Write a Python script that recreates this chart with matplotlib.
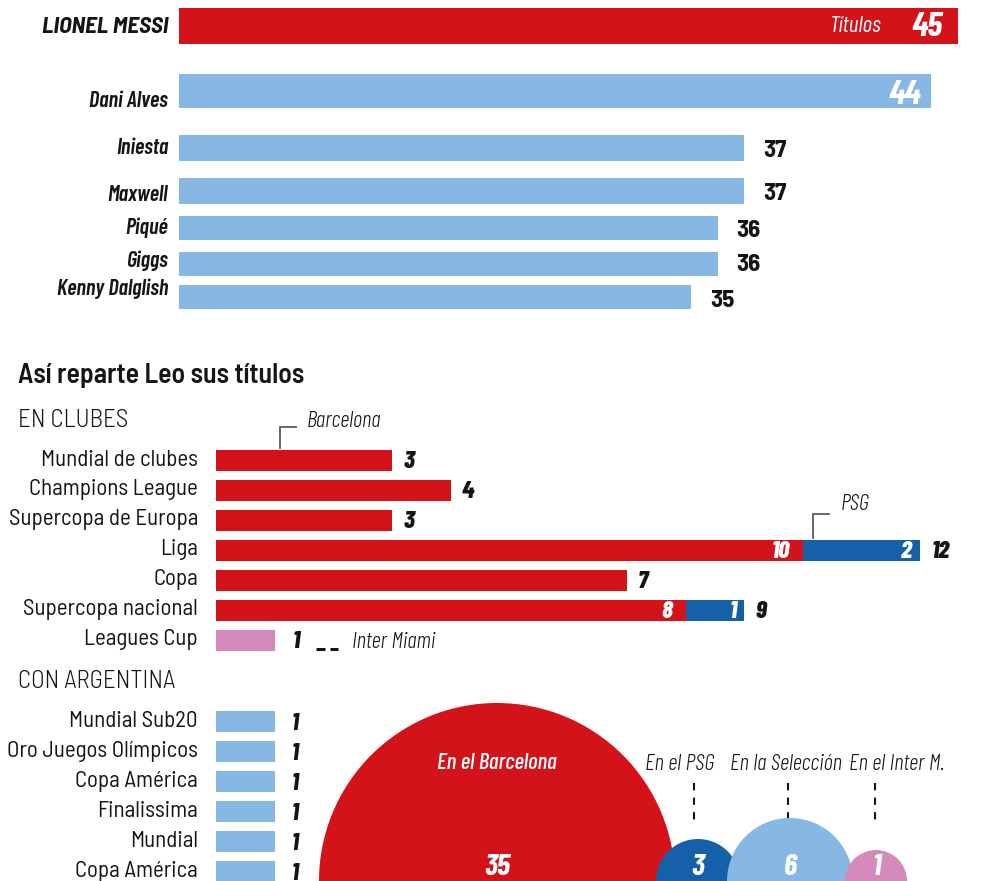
import matplotlib
matplotlib.use("Agg")
import matplotlib.pyplot as plt
from matplotlib.patches import Circle
from matplotlib.font_manager import FontProperties

# ---------------- data ----------------
top_players = ["LIONEL MESSI", "Dani Alves", "Iniesta", "Maxwell", "Piqué", "Giggs", "Kenny Dalglish"]
top_titles = [45, 44, 37, 37, 36, 36, 35]

club_competitions = ["Mundial de clubes", "Champions League", "Supercopa de Europa",
                     "Liga", "Copa", "Supercopa nacional", "Leagues Cup"]
club_barcelona = [3, 4, 3, 10, 7, 8, 0]
club_psg = [0, 0, 0, 2, 0, 1, 0]
club_inter = [0, 0, 0, 0, 0, 0, 1]

arg_competitions = ["Mundial Sub20", "Oro Juegos Olímpicos", "Copa América",
                    "Finalissima", "Mundial", "Copa América"]
arg_titles = [1, 1, 1, 1, 1, 1]

bubble_labels = ["En el Barcelona", "En el PSG", "En la Selección", "En el Inter M."]
bubble_values = [35, 3, 6, 1]

# ---------------- style / layout ----------------
W, H = 989, 881
RED = "#D41219"
LBLUE = "#86B8E3"
DBLUE = "#1560A9"
PINK = "#D48ABA"
INK = "#151515"
GREY = "#5a5a5a"

FAM = ["Barlow Condensed", "DejaVu Sans"]
FAM_SEMI = ["Barlow Semi Condensed", "Barlow Condensed", "DejaVu Sans"]


def fp(size, weight=400, style="normal", family=FAM):
    return FontProperties(family=family, size=size, weight=weight, style=style)


fig = plt.figure(figsize=(W / 100, H / 100), dpi=100)
fig.patch.set_facecolor("white")

# --- top ranking panel: pixel = TOP_A + TOP_B * value (scale does not start at 0)
TOP_A, TOP_B = -242.8, 26.68
top_base = (179 - TOP_A) / TOP_B
ax_top = fig.add_axes([0, 0, 1, 1])
ax_top.set_xlim((0 - TOP_A) / TOP_B, (W - TOP_A) / TOP_B)
ax_top.set_ylim(H, 0)
ax_top.axis("off")
ax_top.patch.set_alpha(0)

top_y = [26, 91, 148, 191, 228, 264, 297]
top_h = [36, 34, 26, 26, 24, 24, 24]
top_label_base = [33, 107, 154, 201, 234, 267, 295]
top_value_base = [36, 104, 157, 200, 237, 271, 307]
top_colors = [RED] + [LBLUE] * 6

for i, (name, v) in enumerate(zip(top_players, top_titles)):
    ax_top.barh(top_y[i], v - top_base, left=top_base, height=top_h[i],
                color=top_colors[i], edgecolor="none")
    lx = (168 - TOP_A) / TOP_B
    if i == 0:
        ax_top.text(lx, top_label_base[i], name, ha="right", va="baseline",
                    color=INK, fontproperties=fp(17, 700, "italic", FAM_SEMI))
        ax_top.annotate(str(v), (v, top_value_base[i]), xytext=(-15, 0),
                        textcoords="offset pixels", ha="right", va="baseline",
                        color="white", fontproperties=fp(25, 700, "italic"))
        ax_top.annotate("Títulos", (v, top_label_base[i] - 1), xytext=(-76, 0),
                        textcoords="offset pixels", ha="right", va="baseline",
                        color="white", fontproperties=fp(17, 400, "italic"))
    elif i == 1:
        ax_top.text(lx, top_label_base[i], name, ha="right", va="baseline",
                    color=INK, fontproperties=fp(16, 600, "italic"))
        ax_top.annotate(str(v), (v, top_value_base[i]), xytext=(-10, 0),
                        textcoords="offset pixels", ha="right", va="baseline",
                        color="white", fontproperties=fp(25, 700, "italic"))
    else:
        ax_top.text(lx, top_label_base[i], name, ha="right", va="baseline",
                    color=INK, fontproperties=fp(16, 600, "italic"))
        ax_top.annotate(str(v), (v, top_value_base[i]), xytext=(19, 0),
                        textcoords="offset pixels", ha="left", va="baseline",
                        color=INK, fontproperties=fp(18, 700, "normal", FAM_SEMI))

# --- clubs + Argentina panel: pixel = 216 + 58.7 * value
CL_A, CL_B = 216.0, 58.7
ax_cl = fig.add_axes([0, 0, 1, 1])
ax_cl.set_xlim((0 - CL_A) / CL_B, (W - CL_A) / CL_B)
ax_cl.set_ylim(H, 0)
ax_cl.axis("off")
ax_cl.patch.set_alpha(0)


def px(xpix):
    return (xpix - CL_A) / CL_B


ax_cl.text(px(18), 383, "Así reparte Leo sus títulos", ha="left", va="baseline",
           color=INK, fontproperties=fp(20, 600, "normal", FAM_SEMI))
ax_cl.text(px(18), 427, "EN CLUBES", ha="left", va="baseline",
           color=INK, fontproperties=fp(18, 300, "normal", FAM_SEMI))
ax_cl.text(px(18), 688, "CON ARGENTINA", ha="left", va="baseline",
           color=INK, fontproperties=fp(18, 300, "normal", FAM_SEMI))

club_y = [460.5 + 30 * i for i in range(len(club_competitions))]
BAR_H = 21
for i, comp in enumerate(club_competitions):
    b, p, m = club_barcelona[i], club_psg[i], club_inter[i]
    y = club_y[i]
    ax_cl.barh(y, b, left=0, height=BAR_H, color=RED, edgecolor="none")
    ax_cl.barh(y, p, left=b, height=BAR_H, color=DBLUE, edgecolor="none")
    ax_cl.barh(y, m, left=b + p, height=BAR_H, color=PINK, edgecolor="none")
    total = b + p + m
    ax_cl.text(px(198), y + 5, comp, ha="right", va="baseline", color=INK,
               fontproperties=fp(16.5, 400, "normal", FAM_SEMI))
    off = 18 if m > 0 else 11
    ax_cl.annotate(str(total), (total, y + 7), xytext=(off, 0),
                   textcoords="offset pixels", ha="left", va="baseline",
                   color=INK, fontproperties=fp(18, 800, "italic"))
    if p > 0:
        ax_cl.annotate(str(b), (b, y + 7), xytext=(-13, 0), textcoords="offset pixels",
                       ha="right", va="baseline", color="white",
                       fontproperties=fp(18, 800, "italic"))
        ax_cl.annotate(str(p), (b + p, y + 7), xytext=(-8, 0), textcoords="offset pixels",
                       ha="right", va="baseline", color="white",
                       fontproperties=fp(18, 800, "italic"))

arg_y = [721.5 + 30 * i for i in range(len(arg_competitions))]
for i, comp in enumerate(arg_competitions):
    y = arg_y[i]
    ax_cl.barh(y, arg_titles[i], left=0, height=BAR_H, color=LBLUE, edgecolor="none")
    ax_cl.text(px(198), y + 5.5, comp, ha="right", va="baseline", color=INK,
               fontproperties=fp(16.5, 400, "normal", FAM_SEMI))
    ax_cl.annotate(str(arg_titles[i]), (arg_titles[i], y + 8), xytext=(17, 0),
                   textcoords="offset pixels", ha="left", va="baseline",
                   color=INK, fontproperties=fp(17, 800, "italic"))

# --- annotations & bubbles (pixel coordinates)
ax_px = fig.add_axes([0, 0, 1, 1])
ax_px.set_xlim(0, W)
ax_px.set_ylim(H, 0)
ax_px.axis("off")
ax_px.patch.set_alpha(0)

ax_px.plot([280, 280, 296], [448, 427, 427], color=GREY, lw=1.3, solid_joinstyle="miter")
ax_px.text(307, 427, "Barcelona", ha="left", va="baseline", color=INK,
           fontproperties=fp(16.5, 300, "italic"))
ax_px.plot([813, 813, 829], [538, 514, 514], color=GREY, lw=1.3, solid_joinstyle="miter")
ax_px.text(841, 510, "PSG", ha="left", va="baseline", color=INK,
           fontproperties=fp(16.5, 300, "italic"))
ax_px.hlines([649, 649], [316, 330], [325, 338], color=INK, lw=2.2)
ax_px.text(352, 648, "Inter Miami", ha="left", va="baseline", color=INK,
           fontproperties=fp(16.5, 300, "italic"))

bubble_cx = [497, 698, 790, 876]
bubble_r = [178, 42, 63, 31]
bubble_cy = 881
bubble_colors = [RED, DBLUE, LBLUE, PINK]
label_cx = [497, 680, 786, 897]
dash_x = [694, 788, 875]

for i, v in enumerate(bubble_values):
    ax_px.add_patch(Circle((bubble_cx[i], bubble_cy), bubble_r[i],
                           facecolor=bubble_colors[i], edgecolor="none", zorder=2 + i))
    ax_px.text(bubble_cx[i], 875, str(v), ha="center", va="baseline", color="white",
               fontproperties=fp(22, 700, "italic"), zorder=10)
    if i == 0:
        ax_px.text(label_cx[i], 769, bubble_labels[i], ha="center", va="baseline",
                   color="white", fontproperties=fp(16.5, 500, "italic"), zorder=10)
    else:
        ax_px.text(label_cx[i], 770, bubble_labels[i], ha="center", va="baseline",
                   color=INK, fontproperties=fp(16.5, 300, "italic"), zorder=10)
        ax_px.plot([dash_x[i - 1], dash_x[i - 1]], [783, 820], color=INK, lw=1.5,
                   linestyle=(0, (3.5, 3.5)), zorder=1)

fig.savefig("out.png", dpi=100, facecolor="white")
